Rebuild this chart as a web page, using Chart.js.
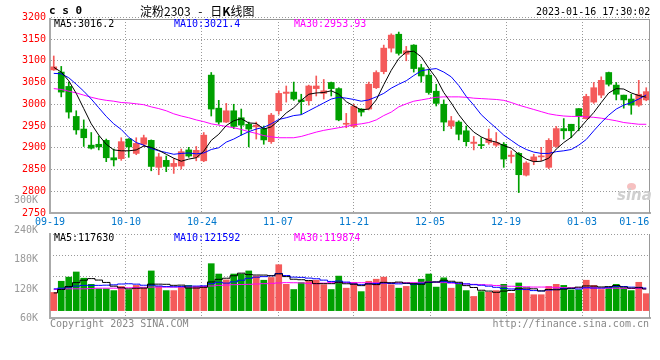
<!DOCTYPE html>
<html lang="zh-CN">
<head>
	<meta charset="utf-8">
	<title>淀粉2303 - 日K线图</title>
	<script src="https://cdn.jsdelivr.net/npm/chart.js"></script>
	<style>
		body { margin: 0; background: #fff; }
		.wrap { position: relative; width: 660px; height: 360px; overflow: hidden; }
		.wrap canvas { position: absolute; left: 0; top: 0; }
		.t { position: absolute; font: 10px/10px "DejaVu Sans Mono", "Liberation Mono", monospace; white-space: pre; color: #000; }
		.title { position: absolute; left: 140px; top: 4px; font: 12px/14px "Noto Sans CJK SC", sans-serif; white-space: pre; word-spacing: 5px; }
		.logo { position: absolute; left: 617px; top: 188px; font: italic bold 15px/15px "DejaVu Sans", sans-serif; color: #cfcfcf; }
		.eye { position: absolute; left: 627px; top: 183px; width: 9px; height: 7px; border-radius: 50%; background: #f6c0c0; }
	</style>
</head>

<body>
<div class="wrap">
	<canvas id="kline" width="660" height="360"></canvas>
	<canvas id="volume" width="660" height="360"></canvas>

	<div class="t" style="left:49px;top:6px;font-weight:bold;font-size:11px">c s 0</div>
	<div class="title">淀粉2303 - 日<b>K</b>线图</div>
	<div class="t" style="left:536px;top:7px">2023-01-16 17:30:02</div>

	<div class="t" style="left:54px;top:19px">MA5:3016.2</div>
	<div class="t" style="left:174px;top:19px;color:#0000ff">MA10:3021.4</div>
	<div class="t" style="left:294px;top:19px;color:#ff00ff">MA30:2953.93</div>

	<div class="t" style="left:54px;top:233px">MA5:117630</div>
	<div class="t" style="left:174px;top:233px;color:#0000ff">MA10:121592</div>
	<div class="t" style="left:294px;top:233px;color:#ff00ff">MA30:119874</div>

	<div class="eye"></div>
	<div class="logo">sina</div>

	<div class="t" style="left:50px;top:319px;color:#888">Copyright 2023 SINA.COM</div>
	<div class="t" style="right:11px;top:319px;color:#888">http://finance.sina.com.cn</div>
</div>

<script>
// date labels under the price panel, price and volume tick labels
const dates = ['09-19', '10-10', '10-24', '11-07', '11-21', '12-05', '12-19', '01-03', '01-16'];
const priceTicks = [2750, 2800, 2850, 2900, 2950, 3000, 3050, 3100, 3150, 3200];
const volTicks = [60000, 120000, 180000, 240000, 300000];

// daily candles, 09-19 .. 01-16
const open = [3079, 3074, 3041, 2972, 2943, 2906, 2908, 2917, 2877, 2875,
	2920, 2887, 2908, 2917, 2855, 2871, 2857, 2858, 2895, 2878,
	2870, 3067, 2991, 2959, 2985, 2969, 2954, 2948, 2944, 2914,
	2985, 3025, 3028, 3010, 3008, 3036, 3025, 3050, 3036, 2954,
	2949, 2989, 2989, 3038, 3075, 3129, 3161, 3115, 3136, 3084,
	3067, 3030, 3000, 2950, 2959, 2939, 2910, 2907, 2912, 2906,
	2908, 2880, 2887, 2837, 2870, 2879, 2855, 2903, 2944, 2954,
	2990, 2967, 3005, 3021, 3073, 3044, 3021, 3012, 2998, 3010];
const high = [3111, 3087, 3051, 2985, 2964, 2935, 2927, 2920, 2897, 2923,
	2921, 2923, 2929, 2918, 2887, 2881, 2875, 2897, 2901, 2903,
	2935, 3073, 3009, 3002, 3000, 2989, 2959, 2959, 2950, 2979,
	3031, 3042, 3051, 3023, 3044, 3065, 3057, 3051, 3038, 2979,
	3000, 2990, 3051, 3077, 3136, 3162, 3166, 3133, 3137, 3092,
	3080, 3046, 3010, 2972, 2962, 2950, 2926, 2923, 2943, 2935,
	2912, 2893, 2889, 2868, 2885, 2901, 2921, 2949, 2967, 2954,
	2990, 3023, 3050, 3063, 3074, 3050, 3021, 3023, 3055, 3038];
const low = [3078, 3017, 2968, 2931, 2903, 2897, 2895, 2868, 2858, 2871,
	2878, 2884, 2903, 2847, 2838, 2845, 2841, 2851, 2878, 2870,
	2868, 2973, 2954, 2958, 2944, 2929, 2902, 2920, 2908, 2910,
	2977, 3005, 3009, 2977, 2998, 3019, 3012, 3019, 2962, 2946,
	2946, 2973, 2987, 3036, 3070, 3120, 3113, 3100, 3074, 3051,
	3023, 2996, 2939, 2944, 2918, 2904, 2895, 2898, 2908, 2903,
	2855, 2865, 2797, 2835, 2861, 2870, 2852, 2901, 2920, 2923,
	2939, 2966, 3002, 3015, 3042, 3010, 2991, 2977, 2995, 3008];
const close = [3086, 3028, 2982, 2941, 2923, 2899, 2902, 2877, 2872, 2914,
	2902, 2910, 2923, 2857, 2879, 2857, 2864, 2891, 2881, 2894,
	2929, 2989, 2959, 2985, 2949, 2952, 2943, 2952, 2918, 2975,
	3025, 3028, 3012, 3006, 3042, 3042, 3031, 3036, 2964, 2956,
	2995, 2982, 3046, 3073, 3129, 3159, 3117, 3123, 3082, 3065,
	3027, 3002, 2959, 2962, 2931, 2914, 2913, 2905, 2921, 2912,
	2874, 2883, 2838, 2865, 2879, 2881, 2917, 2944, 2939, 2939,
	2972, 3018, 3038, 3055, 3046, 3023, 3010, 2998, 3023, 3029];

const ma5 = [3085, 3074, 3054, 3025, 2990, 2955, 2929, 2908, 2895, 2893,
	2893, 2895, 2904, 2901, 2894, 2885, 2876, 2869, 2874, 2877,
	2892, 2917, 2931, 2951, 2962, 2967, 2957, 2956, 2943, 2948,
	2963, 2980, 2992, 3009, 3023, 3026, 3027, 3031, 3023, 3006,
	2996, 2987, 2989, 3010, 3045, 3078, 3105, 3120, 3122, 3109,
	3083, 3060, 3027, 3003, 2976, 2954, 2936, 2925, 2917, 2913,
	2905, 2899, 2885, 2874, 2868, 2869, 2876, 2897, 2912, 2924,
	2942, 2962, 2981, 3004, 3026, 3036, 3035, 3026, 3020, 3016.2];
const ma10 = [3071, 3070, 3061, 3046, 3030, 3012, 2992, 2972, 2955, 2942,
	2924, 2912, 2906, 2898, 2893, 2889, 2885, 2887, 2888, 2886,
	2888, 2896, 2900, 2913, 2920, 2929, 2937, 2943, 2947, 2955,
	2965, 2969, 2974, 2976, 2985, 2994, 3003, 3012, 3016, 3014,
	3011, 3007, 3010, 3017, 3025, 3037, 3046, 3054, 3066, 3077,
	3080, 3082, 3074, 3063, 3043, 3018, 2998, 2976, 2960, 2945,
	2929, 2917, 2905, 2896, 2890, 2887, 2887, 2891, 2893, 2896,
	2906, 2919, 2939, 2958, 2975, 2989, 2998, 3004, 3012, 3021.4];
const ma30 = [3036, 3034, 3030, 3026, 3021, 3016, 3012, 3009, 3007, 3004,
	3003, 3001, 2999, 2994, 2990, 2985, 2978, 2973, 2969, 2964,
	2960, 2955, 2952, 2949, 2946, 2942, 2937, 2933, 2928, 2925,
	2923, 2923, 2923, 2926, 2931, 2936, 2940, 2943, 2946, 2949,
	2953, 2955, 2958, 2964, 2974, 2982, 2994, 3001, 3007, 3010,
	3013, 3016, 3017, 3017, 3017, 3016, 3014, 3013, 3012, 3011,
	3009, 3004, 2998, 2993, 2988, 2983, 2978, 2975, 2973, 2972,
	2972, 2971, 2970, 2968, 2965, 2962, 2958, 2956, 2954, 2953.93];

const vol = [113000, 135800, 144200, 154700, 142000, 129500, 120400, 120400, 116800, 125300,
	118300, 127400, 121700, 156800, 125300, 116800, 116800, 123900, 127400, 125300,
	123900, 171600, 150500, 138600, 150500, 150500, 156800, 146300, 137900, 143500,
	169500, 129500, 119000, 133000, 135800, 137900, 128800, 119000, 146300, 121700,
	133000, 114700, 135800, 140000, 144200, 128800, 121700, 125300, 132300, 140000,
	150500, 123900, 142800, 121700, 129500, 116800, 104900, 114700, 113300, 116800,
	129500, 111200, 132300, 120400, 108400, 108400, 125300, 129500, 127400, 118300,
	118300, 137900, 127400, 119000, 121700, 129500, 121700, 116800, 133700, 110500];
const vma5 = [112000, 119000, 125000, 133000, 137900, 141200, 138200, 133400, 125800, 122500,
	120200, 121600, 121900, 129900, 129900, 129600, 127500, 127900, 122000, 122000,
	123500, 134400, 139700, 142000, 147000, 152300, 149400, 148500, 148400, 147000,
	150800, 145300, 139900, 138900, 137400, 131000, 130900, 130900, 133600, 130700,
	129800, 126900, 130300, 129000, 133500, 132700, 134100, 132000, 130500, 129600,
	134000, 134400, 137900, 135800, 133700, 126900, 123100, 117500, 115800, 113300,
	115800, 117100, 120600, 122000, 120400, 116100, 119000, 118400, 119800, 121800,
	123800, 126300, 125900, 124200, 124900, 127100, 123900, 121700, 122500, 120000];
const vma10 = [120400, 121700, 123900, 126000, 127400, 127400, 127400, 127800, 128500, 130200,
	130700, 129900, 127700, 127900, 126200, 124900, 124600, 124900, 126000, 126000,
	126500, 131000, 133800, 132000, 134500, 137900, 141900, 144100, 145200, 147000,
	151600, 147400, 144200, 143700, 142200, 140900, 138100, 135400, 136200, 134100,
	130400, 128900, 130600, 131300, 132100, 131200, 130500, 131200, 129800, 131600,
	133300, 134300, 135000, 133100, 131700, 130500, 128800, 127700, 125800, 123500,
	121400, 120100, 119100, 118900, 116800, 116000, 118000, 119500, 120900, 121100,
	120000, 122600, 122100, 122000, 123300, 125400, 125100, 123800, 123400, 122000];
const vma30 = [119000, 119700, 120400, 120400, 120400, 121000, 121700, 121700, 121700, 122000,
	122500, 123000, 123500, 123900, 123900, 123900, 123900, 123900, 123900, 123900,
	125000, 126200, 127400, 128100, 128800, 129200, 129500, 130200, 130900, 131600,
	132300, 133000, 132800, 132300, 131600, 130900, 132000, 133000, 133000, 133000,
	133000, 132800, 132600, 132500, 132500, 132500, 132600, 132800, 133000, 133700,
	134400, 133700, 133000, 132000, 131000, 130200, 129500, 128900, 128300, 127200,
	126000, 125600, 125000, 124500, 124000, 124000, 123900, 123300, 122800, 122600,
	122500, 122200, 122000, 121800, 121700, 121600, 121500, 121200, 121000, 120600];

const RED = '#f45a5a';
const GREEN = '#00a000';
const GRID = '#999';
const MONO = '"DejaVu Sans Mono", "Liberation Mono", monospace';
const NONE = 'rgba(0,0,0,0)';

const candleColors = close.map((c, i) => c >= open[i] ? RED : GREEN);
const xy = arr => arr.map((v, i) => ({ x: i, y: v }));

// sina spaces the date labels 76px apart (10.13 bars), the last one sits flush right
const LABEL_STEP = 76 / 7.5;
function dateTicks(scale) {
	scale.ticks = dates.map((d, k) => ({
		value: k < dates.length - 1 ? -0.5 + k * LABEL_STEP : close.length - 2.6
	}));
}

function xAxis(showLabels) {
	return {
		type: 'linear',
		offset: false,
		min: -0.5,
		max: close.length - 0.5,
		afterBuildTicks: dateTicks,
		afterFit: s => { s.height = showLabels ? 16 : 0; },
		ticks: {
			display: showLabels,
			autoSkip: false,
			maxRotation: 0,
			padding: 3,
			color: '#0077cc',
			font: { family: MONO, size: 10 },
			callback: (v, i) => dates[i]
		},
		grid: {
			offset: false,
			drawTicks: false,
			color: c => (c.index === 0 || c.index === dates.length - 1) ? NONE : GRID
		},
		border: { color: '#aaa', width: 2, dash: [1, 2] }
	};
}

const frame = {
	id: 'frame',
	afterDraw(chart, args, opts) {
		const { ctx, chartArea: a } = chart;
		ctx.save();
		ctx.strokeStyle = '#999';
		ctx.lineWidth = 1;
		ctx.beginPath();
		if (opts.top) {
			ctx.moveTo(a.left, a.top + 0.5);
			ctx.lineTo(a.right, a.top + 0.5);
		}
		ctx.moveTo(a.right - 0.5, a.top);
		ctx.lineTo(a.right - 0.5, a.bottom);
		ctx.stroke();
		ctx.restore();
	}
};

function maLine(arr, color, stepped) {
	return {
		type: 'line',
		data: xy(arr),
		borderColor: color,
		borderWidth: 1,
		pointRadius: 0,
		tension: 0,
		stepped: stepped ? 'middle' : false,
		order: 0
	};
}

// price panel
new Chart(document.getElementById('kline'), {
	type: 'bar',
	data: {
		datasets: [
			maLine(ma5, '#000000'),
			maLine(ma10, '#0000ff'),
			maLine(ma30, '#ff00ff'),
			{
				data: open.map((o, i) => ({ x: i, y: [o, close[i]] })),
				backgroundColor: candleColors,
				barThickness: 6,
				minBarLength: 1,
				grouped: false,
				order: 1
			},
			{
				data: low.map((l, i) => ({ x: i, y: [l, high[i]] })),
				backgroundColor: candleColors,
				barThickness: 1,
				grouped: false,
				order: 2
			}
		]
	},
	options: {
		responsive: false,
		animation: false,
		devicePixelRatio: 1,
		layout: { padding: { top: 19, right: 10, bottom: 131, left: 0 } },
		plugins: { legend: { display: false }, tooltip: { enabled: false }, frame: { top: true } },
		scales: {
			x: xAxis(true),
			y: {
				min: 2750,
				max: 3196,
				afterBuildTicks: s => { s.ticks = priceTicks.map(v => ({ value: v })); },
				afterFit: s => { s.width = 50; },
				ticks: {
					autoSkip: false,
					padding: 4,
					color: '#ff0000',
					font: { family: MONO, size: 10 },
					callback: v => String(v)
				},
				grid: { drawTicks: false, color: c => c.index === 0 ? NONE : GRID },
				border: { color: '#aaa', width: 2, dash: [1, 2] }
			}
		}
	},
	plugins: [frame]
});

// volume panel
new Chart(document.getElementById('volume'), {
	type: 'bar',
	data: {
		datasets: [
			maLine(vma5, '#000000', true),
			maLine(vma10, '#0000ff', true),
			maLine(vma30, '#ff00ff', true),
			{
				data: xy(vol),
				base: 76000,
				backgroundColor: candleColors,
				barThickness: 6,
				grouped: false,
				order: 1
			}
		]
	},
	options: {
		responsive: false,
		animation: false,
		devicePixelRatio: 1,
		layout: { padding: { top: 234, right: 10, bottom: 42, left: 0 } },
		plugins: { legend: { display: false }, tooltip: { enabled: false }, frame: { top: false } },
		scales: {
			x: xAxis(false),
			y: {
				min: 61000,
				max: 232000,
				afterBuildTicks: s => { s.ticks = volTicks.map(v => ({ value: v })); },
				afterFit: s => { s.width = 50; },
				ticks: {
					autoSkip: false,
					padding: 4,
					color: '#999',
					font: { family: MONO, size: 10 },
					callback: v => (v / 1000) + 'K'
				},
				grid: { display: false },
				border: { color: '#aaa', width: 2 }
			},
			// quarter lines of the volume box
			yg: {
				position: 'left',
				min: 0,
				max: 4,
				afterFit: s => { s.width = 0; },
				ticks: { display: false, stepSize: 1 },
				grid: { drawTicks: false, color: c => c.index === 0 ? NONE : GRID },
				border: { display: false, dash: [1, 2] }
			}
		}
	},
	plugins: [frame]
});
</script>
</body>

</html>
